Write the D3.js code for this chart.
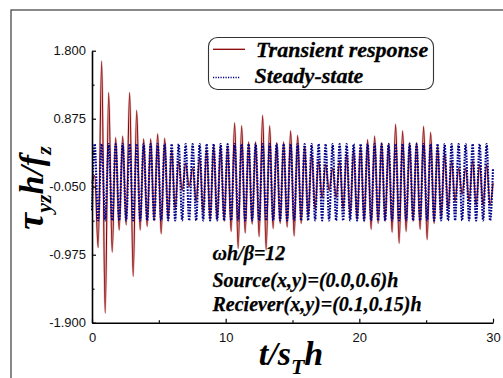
<!DOCTYPE html>
<html><head><meta charset="utf-8">
<script src="https://cdn.jsdelivr.net/npm/d3@7"></script>
<style>
body{margin:0;background:#fff}
svg{display:block}
</style>
</head><body>
<svg id="chart" width="503" height="378"></svg>
<script>
// Axis ticks
const xTicks = [0, 10, 20, 30];
const xMinorTicks = [5, 15, 25];
const yTicks = [1.8, 0.875, -0.05, -0.975, -1.9];
const yMinorTicks = [1.3375, 0.4125, -0.5125, -1.4375];

// Extrema of the response are sampled every half period (pi/12) starting at t = 0.2
const firstExtremumT = 0.2;
const halfPeriod = 0.2618;

// Transient response: value at t=0, successive crest/trough values, value at t=30
const transientStart = 0.0;
const transientEnd = 0.0;
const transientExtrema = [
  0.10, -0.88, 1.66, -1.77, 1.23, -0.94, 0.62, -0.64, 0.64, -0.57,
  1.23, -1.27, 0.99, -0.64, 0.60, -0.59, 0.60, -0.51, 0.67, -0.69,
  0.61, -0.50, 0.45, -0.35, 0.30, -0.10, 0.27, -0.05, 0.20, -0.25,
  0.35, -0.40, 0.45, -0.50, 0.50, -0.50, 0.50, -0.52, 0.50, -0.66,
  0.82, -0.89, 0.78, -0.68, 0.56, -0.56, 0.56, -0.73, 0.92, -0.91,
  0.78, -0.62, 0.55, -0.55, 0.56, -0.60, 0.71, -0.72, 0.65, -0.55,
  0.50, -0.45, 0.40, -0.35, 0.30, -0.20, 0.25, -0.10, 0.20, -0.20,
  0.30, -0.35, 0.40, -0.45, 0.45, -0.50, 0.50, -0.52, 0.59, -0.63,
  0.64, -0.55, 0.55, -0.52, 0.54, -0.67, 0.80, -0.82, 0.71, -0.66,
  0.55, -0.52, 0.55, -0.63, 0.77, -0.77, 0.69, -0.55, 0.50, -0.45,
  0.40, -0.35, 0.30, -0.25, 0.20, -0.15, 0.20, -0.25, 0.30, -0.30,
  0.25, -0.30, 0.25, -0.30
];

// Steady-state response: same sampling
const steadyStart = -0.37;
const steadyEnd = 0.20;
const steadyExtrema = [
  0.53, -0.51, 0.53, -0.51, 0.53, -0.51, 0.53, -0.51, 0.53, -0.51,
  0.53, -0.51, 0.53, -0.51, 0.53, -0.51, 0.53, -0.51, 0.53, -0.51,
  0.53, -0.51, 0.53, -0.51, 0.53, -0.51, 0.53, -0.51, 0.53, -0.51,
  0.53, -0.51, 0.53, -0.51, 0.53, -0.51, 0.53, -0.51, 0.53, -0.51,
  0.53, -0.51, 0.53, -0.51, 0.53, -0.51, 0.53, -0.51, 0.53, -0.51,
  0.53, -0.51, 0.53, -0.51, 0.53, -0.51, 0.53, -0.51, 0.53, -0.51,
  0.53, -0.51, 0.53, -0.51, 0.53, -0.51, 0.53, -0.51, 0.53, -0.51,
  0.53, -0.51, 0.53, -0.51, 0.53, -0.51, 0.53, -0.51, 0.53, -0.51,
  0.53, -0.51, 0.53, -0.51, 0.53, -0.51, 0.53, -0.51, 0.53, -0.51,
  0.53, -0.51, 0.53, -0.51, 0.53, -0.51, 0.53, -0.51, 0.53, -0.51,
  0.53, -0.51, 0.53, -0.51, 0.53, -0.51, 0.53, -0.51, 0.53, -0.51,
  0.53, -0.51, 0.53, -0.51
];

const legendLabels = ["Transient response", "Steady-state"];
const noteLines = ["ωh/β=12", "Source(x,y)=(0.0,0.6)h", "Reciever(x,y)=(0.1,0.15)h"];

const tMin = 0, tMax = 30;

function buildSeries(start, extrema, end) {
  const pts = [{t: tMin, v: start}];
  extrema.forEach((v, i) => pts.push({t: firstExtremumT + i * halfPeriod, v}));
  pts.push({t: tMax, v: end});
  return pts;
}
const transient = buildSeries(transientStart, transientExtrema, transientEnd);
const steady = buildSeries(steadyStart, steadyExtrema, steadyEnd);

const svg = d3.select("#chart");
const serif = "'Liberation Serif','Times New Roman',serif";
const sans = "'Liberation Sans',Arial,sans-serif";

// outer frame (left and top edges show)
svg.append("rect").attr("x", 11).attr("y", 10).attr("width", 600).attr("height", 500)
  .attr("fill", "none").attr("stroke", "#3a3a3a").attr("stroke-width", 1.2);

const x = d3.scaleLinear().domain([tMin, tMax]).range([92, 493]);
const y = d3.scaleLinear().domain([-1.9, 1.8]).range([322.7, 50.7]);

const line = d3.line().x(d => x(d.t)).y(d => y(d.v)).curve(d3.curveMonotoneX);

// transient response (soft halo + core)
svg.append("path").datum(transient).attr("d", line)
  .attr("fill", "none").attr("stroke", "#b04848").attr("stroke-opacity", 0.3).attr("stroke-width", 2.2);
svg.append("path").datum(transient).attr("d", line)
  .attr("fill", "none").attr("stroke", "#8b0000").attr("stroke-width", 1.1);

// steady-state response, dotted
svg.append("path").datum(steady).attr("d", line)
  .attr("fill", "none").attr("stroke", "#00008b").attr("stroke-width", 2.1)
  .attr("stroke-dasharray", "1.7 1.2");

const fmt = d => d3.format(".3f")(d).replace("−", "-");

// axes
const xAxis = svg.append("g").attr("transform", "translate(0,322.7)")
  .call(d3.axisBottom(x).tickValues(xTicks).tickSizeInner(-4).tickSizeOuter(0).tickPadding(10).tickFormat(d3.format("d")));
const xMinor = svg.append("g").attr("transform", "translate(0,322.7)")
  .call(d3.axisBottom(x).tickValues(xMinorTicks).tickSizeInner(-2.5).tickSizeOuter(0).tickFormat(""));
xMinor.select(".domain").remove();

const yAxis = svg.append("g").attr("transform", "translate(92,0)")
  .call(d3.axisLeft(y).tickValues(yTicks).tickSizeInner(-4).tickSizeOuter(0).tickPadding(6).tickFormat(fmt));
const yMinor = svg.append("g").attr("transform", "translate(92,0)")
  .call(d3.axisLeft(y).tickValues(yMinorTicks).tickSizeInner(-2.5).tickSizeOuter(0).tickFormat(""));
yMinor.select(".domain").remove();

svg.selectAll(".domain").attr("stroke", "#000").attr("stroke-width", 1.6);
svg.selectAll(".tick line").attr("stroke", "#000").attr("stroke-width", 1.2);
svg.selectAll(".tick text").attr("font-family", sans).attr("font-size", 13).attr("fill", "#111");

// axis titles
const xt = svg.append("text").attr("x", 291).attr("y", 365).attr("text-anchor", "middle")
  .attr("font-family", serif).attr("font-weight", "bold").attr("font-style", "italic").attr("font-size", 34);
xt.append("tspan").text("t/s");
xt.append("tspan").attr("dy", 9).attr("font-size", 22).text("T");
xt.append("tspan").attr("dy", -9).text("h");

const yt = svg.append("text").attr("transform", "translate(43,188) rotate(-90)").attr("text-anchor", "middle")
  .attr("font-family", serif).attr("font-weight", "bold").attr("font-style", "italic").attr("font-size", 34);
yt.append("tspan").attr("font-size", 38).text("τ");
yt.append("tspan").attr("dy", 8).attr("font-size", 22).text("yz");
yt.append("tspan").attr("dy", -8).text("h/f");
yt.append("tspan").attr("dy", 8).attr("font-size", 22).text("z");

// legend
const lg = svg.append("g");
lg.append("rect").attr("x", 208.5).attr("y", 37.5).attr("width", 225).attr("height", 52).attr("rx", 9)
  .attr("fill", "#fff").attr("stroke", "#333").attr("stroke-width", 1.1);
lg.append("line").attr("x1", 213).attr("x2", 245).attr("y1", 49.3).attr("y2", 49.3)
  .attr("stroke", "#8b0000").attr("stroke-width", 1.3);
lg.append("line").attr("x1", 213).attr("x2", 240).attr("y1", 77.5).attr("y2", 77.5)
  .attr("stroke", "#00008b").attr("stroke-width", 1.6).attr("stroke-dasharray", "1.2 1.3");
lg.selectAll("text.lab").data(legendLabels).join("text").attr("class", "lab")
  .attr("x", (d, i) => i === 0 ? 256 : 254.5).attr("y", (d, i) => i === 0 ? 56.7 : 83.3)
  .attr("font-family", serif).attr("font-weight", "bold").attr("font-style", "italic").attr("font-size", 22)
  .attr("fill", "#000").attr("stroke", "#000").attr("stroke-width", 0.3).text(d => d);

// parameter notes
svg.selectAll("text.note").data(noteLines).join("text").attr("class", "note")
  .attr("x", 212.5).attr("y", (d, i) => [260, 286.7, 310.7][i])
  .attr("font-family", serif).attr("font-weight", "bold").attr("font-style", "italic").attr("font-size", 20)
  .attr("fill", "#000").attr("stroke", "#000").attr("stroke-width", 0.25).text(d => d);
</script>
</body></html>
